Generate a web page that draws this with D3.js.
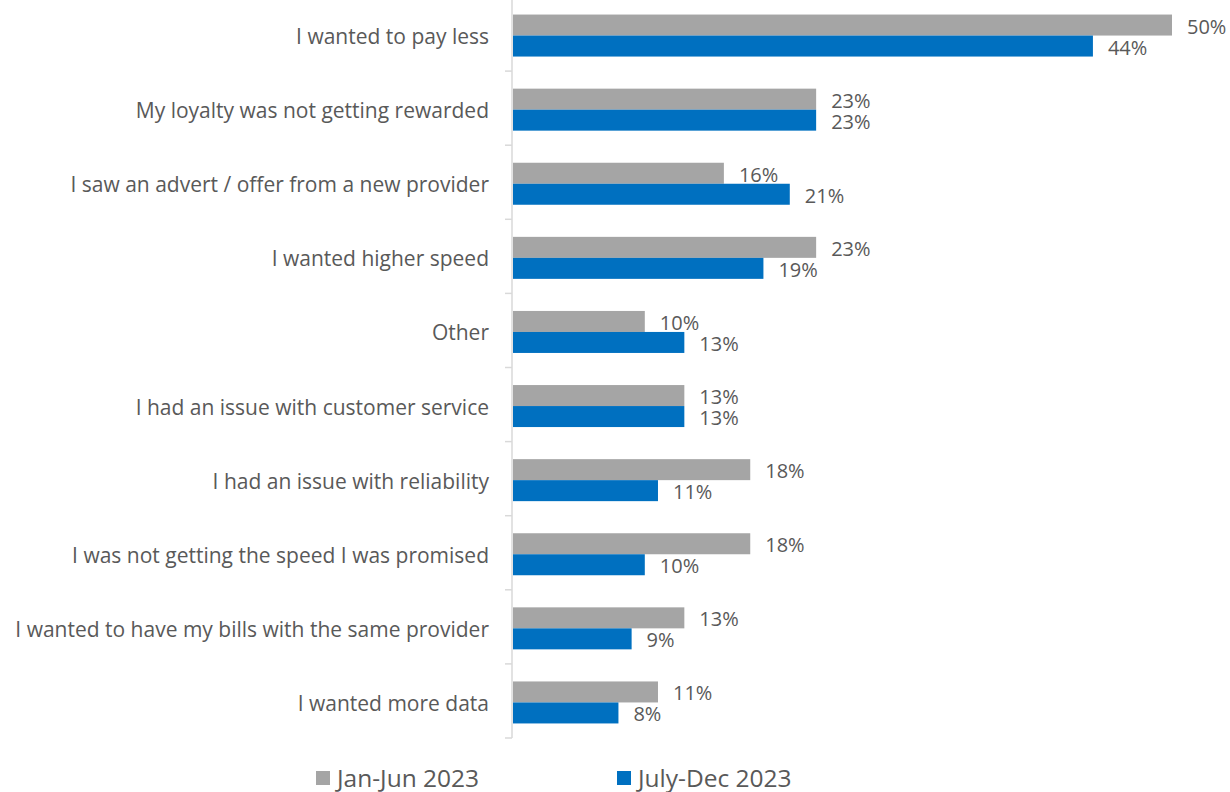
<!DOCTYPE html>
<html>
<head>
<meta charset="utf-8">
<script src="https://cdn.jsdelivr.net/npm/d3@7"></script>
<style>
  html, body { margin: 0; padding: 0; background: #fff; }
  svg { display: block; }
  text { font-family: "Open Sans", "Noto Sans", sans-serif; fill: #595959; }
</style>
</head>
<body>
<svg id="chart" width="1230" height="792"></svg>
<script>
// Reasons for switching provider, two survey waves
const categories = [
  "I wanted to pay less",
  "My loyalty was not getting rewarded",
  "I saw an advert / offer from a new provider",
  "I wanted higher speed",
  "Other",
  "I had an issue with customer service",
  "I had an issue with reliability",
  "I was not getting the speed I was promised",
  "I wanted to have my bills with the same provider",
  "I wanted more data"
];
const seriesNames = ["Jan-Jun 2023", "July-Dec 2023"];
const janJun = [50, 23, 16, 23, 10, 13, 18, 18, 13, 11];
const julyDec = [44, 23, 21, 19, 13, 13, 11, 10, 9, 8];
const seriesColors = ["#A5A5A5", "#0070C0"];

const svg = d3.select("#chart");

const axisX = 512;
const x = d3.scaleLinear().domain([0, 50]).range([axisX, 1171]);
const y = d3.scaleBand().domain(categories).range([-3, 738]).paddingInner(0).paddingOuter(0);
const barH = 21;
const barShift = 1.5;

const rows = categories.map((c, i) => ({ cat: c, vals: [janJun[i], julyDec[i]] }));

// category axis on the left, ticks between categories
const axisG = svg.append("g");
axisG.append("line")
  .attr("x1", axisX).attr("x2", axisX)
  .attr("y1", y.range()[0]).attr("y2", y.range()[1])
  .attr("stroke", "#D9D9D9").attr("stroke-width", 1.5);
const tickYs = categories.map(c => y(c)).concat([y.range()[1]]);
axisG.selectAll("line.tick").data(tickYs).join("line")
  .attr("class", "tick")
  .attr("x1", axisX - 7).attr("x2", axisX)
  .attr("y1", d => d).attr("y2", d => d)
  .attr("stroke", "#D9D9D9").attr("stroke-width", 1.5);

axisG.selectAll("text.cat").data(categories).join("text")
  .attr("class", "cat")
  .attr("x", axisX - 23)
  .attr("y", d => y(d) + y.bandwidth() / 2 + 2)
  .attr("text-anchor", "end")
  .attr("dominant-baseline", "central")
  .style("font-size", "21px")
  .text(d => d);

// bars and value labels
const groups = svg.append("g").selectAll("g").data(rows).join("g")
  .attr("transform", d => `translate(0,${y(d.cat) + y.bandwidth() / 2 - barH + barShift})`);

groups.selectAll("rect").data(d => d.vals).join("rect")
  .attr("x", x(0) + 1)
  .attr("y", (d, j) => j * barH)
  .attr("width", d => x(d) - x(0))
  .attr("height", barH)
  .attr("fill", (d, j) => seriesColors[j]);

groups.selectAll("text").data(d => d.vals).join("text")
  .attr("x", d => x(d) + 16)
  .attr("y", (d, j) => j * barH + barH / 2 + 1)
  .attr("dominant-baseline", "central")
  .style("font-size", "20px")
  .text(d => d + "%");

// legend
const legendX = [316, 617];
const legend = svg.append("g").selectAll("g").data(seriesNames).join("g")
  .attr("transform", (d, i) => `translate(${legendX[i]},771)`);
legend.append("rect")
  .attr("width", 14).attr("height", 14)
  .attr("fill", (d, i) => seriesColors[i]);
legend.append("text")
  .attr("x", 21).attr("y", 6)
  .attr("dominant-baseline", "central")
  .style("font-size", "24.5px")
  .text(d => d);
</script>
</body>
</html>
